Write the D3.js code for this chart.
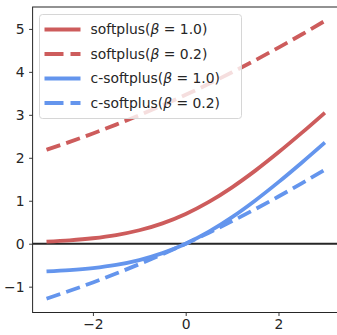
<!DOCTYPE html>
<html>
<head>
<meta charset="utf-8">
<script src="https://cdn.jsdelivr.net/npm/d3@7"></script>
<style>
  body { margin: 0; background: #fff; }
  svg { display: block; font-family: "DejaVu Sans", sans-serif; }
</style>
</head>
<body>
<div id="chart"></div>
<script>
// x samples and curve values
const xs = [-3, -2.5, -2, -1.5, -1, -0.5, 0, 0.5, 1, 1.5, 2, 2.5, 3];
const softplus1 = [0.049, 0.079, 0.127, 0.201, 0.313, 0.474, 0.693, 0.974, 1.313, 1.701, 2.127, 2.579, 3.049];
const softplus02 = [2.187, 2.370, 2.565, 2.772, 2.991, 3.222, 3.466, 3.722, 3.991, 4.272, 4.565, 4.870, 5.187];
const csoftplus1 = [-0.645, -0.614, -0.566, -0.492, -0.380, -0.219, 0, 0.281, 0.620, 1.008, 1.434, 1.886, 2.355];
const csoftplus02 = [-1.278, -1.095, -0.901, -0.694, -0.475, -0.244, 0, 0.256, 0.525, 0.806, 1.099, 1.405, 1.722];
const seriesNames = ["softplus", "softplus", "c-softplus", "c-softplus"];
const betaLabels = ["1.0", "0.2", "1.0", "0.2"];
const xTicks = [-2, 0, 2];
const yTicks = [-1, 0, 1, 2, 3, 4, 5];

const red = "#cd5c5c", blue = "#6495ed";
const series = [
  {vals: softplus1, color: red, dash: null},
  {vals: softplus02, color: red, dash: "14.5,6.3"},
  {vals: csoftplus1, color: blue, dash: null},
  {vals: csoftplus02, color: blue, dash: "14.5,6.3"}
];

const width = 337, height = 335;
const mLeft = 32.6, mTop = 7, mRight = 338.8, mBottom = 312.5;
const fontSize = 13.9;

const svg = d3.select("#chart").append("svg")
    .attr("width", width)
    .attr("height", height);

const x = d3.scaleLinear().domain([-3.3, 3.3]).range([mLeft, mRight]);
const y = d3.scaleLinear().domain([-1.601, 5.51]).range([mBottom, mTop]);

svg.append("clipPath").attr("id", "clip")
  .append("rect")
    .attr("x", mLeft).attr("y", mTop)
    .attr("width", mRight - mLeft).attr("height", mBottom - mTop);

const plot = svg.append("g").attr("clip-path", "url(#clip)");

// zero line
plot.append("line")
    .attr("x1", mLeft).attr("x2", mRight)
    .attr("y1", y(0)).attr("y2", y(0))
    .attr("stroke", "#262626")
    .attr("stroke-width", 2);

const line = d3.line()
    .x((d, i) => x(xs[i]))
    .y(d => y(d))
    .curve(d3.curveMonotoneX);

series.forEach(s => {
  plot.append("path")
      .attr("d", line(s.vals))
      .attr("fill", "none")
      .attr("stroke", s.color)
      .attr("stroke-width", 3.8)
      .attr("stroke-dasharray", s.dash);
});

// axes
const xAxis = svg.append("g")
    .attr("transform", `translate(0,${mBottom})`)
    .call(d3.axisBottom(x).tickValues(xTicks).tickSize(3.5).tickPadding(3)
      .tickFormat(d => d < 0 ? "\u2212" + Math.abs(d) : d));
const yAxis = svg.append("g")
    .attr("transform", `translate(${mLeft},0)`)
    .call(d3.axisLeft(y).tickValues(yTicks).tickSize(3.5).tickPadding(4.5)
      .tickFormat(d => d < 0 ? "\u2212" + Math.abs(d) : d));
[xAxis, yAxis].forEach(a => {
  a.select(".domain").remove();
  a.selectAll("text").attr("font-size", fontSize).attr("fill", "#262626")
      .attr("font-family", "DejaVu Sans");
  a.selectAll("line").attr("stroke", "#262626").attr("stroke-width", 0.9);
});

// frame
svg.append("rect")
    .attr("x", mLeft).attr("y", mTop)
    .attr("width", mRight - mLeft).attr("height", mBottom - mTop)
    .attr("fill", "none")
    .attr("stroke", "#262626")
    .attr("stroke-width", 1);

// legend
const legend = svg.append("g").attr("transform", "translate(39.5,14.5)");
legend.append("rect")
    .attr("width", 202).attr("height", 104)
    .attr("rx", 3)
    .attr("fill", "#fff").attr("fill-opacity", 0.8)
    .attr("stroke", "#d6d6d6").attr("stroke-width", 1);

series.forEach((s, i) => {
  const row = legend.append("g").attr("transform", `translate(0,${15 + i * 24.5})`);
  row.append("line")
      .attr("x1", 5).attr("x2", 41)
      .attr("stroke", s.color)
      .attr("stroke-width", 3.8)
      .attr("stroke-dasharray", s.dash ? "19,7" : null);
  const t = row.append("text")
      .attr("x", 51).attr("dy", "0.35em")
      .attr("font-size", fontSize)
      .attr("fill", "#262626");
  t.append("tspan").text(seriesNames[i] + "(");
  t.append("tspan").attr("font-style", "italic").text("\u03b2");
  t.append("tspan").text(" = " + betaLabels[i] + ")");
});
</script>
</body>
</html>
